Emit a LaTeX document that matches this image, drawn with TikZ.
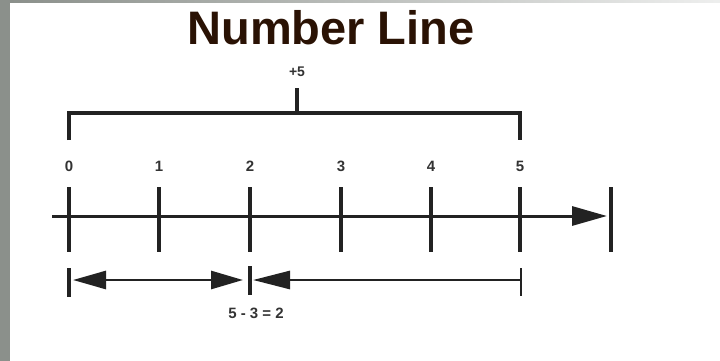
\documentclass[tikz,border=0pt]{standalone}
\usepackage{fontspec}
\setmainfont{Liberation Sans}
\usetikzlibrary{arrows.meta}
\definecolor{titlebrown}{HTML}{2A1204}
\definecolor{ink}{HTML}{222222}
\definecolor{labelgray}{HTML}{333333}
\definecolor{framegray}{HTML}{8B908B}
\tikzset{
  tickline/.style={draw=ink, line width=3.2pt},
  axisline/.style={draw=ink, line width=3pt},
  lab/.style={font=\fontsize{15}{17}\selectfont\bfseries, text=labelgray, inner sep=0pt},
  bigtip/.style={-{Triangle[length=35pt,width=19pt]}},
}
\begin{document}
\begin{tikzpicture}[x=1pt,y=-1pt]
\useasboundingbox (0,0) rectangle (720,361);
\fill[white] (0,0) rectangle (720,361);
\fill[framegray] (0,0) rectangle (10,361);
\shade[left color=framegray, right color=framegray!15] (10,0) rectangle (720,2.5);
% title
\node[font=\fontsize{47}{50}\selectfont\bfseries, text=titlebrown, inner sep=0pt] (title) at (331,28) {Number Line};
% tick coordinates
\foreach \i/\x in {0/69,1/159,2/250,3/341,4/431,5/520} {
  \coordinate (p\i) at (\x,216);
  \coordinate (u\i) at (\x,187);
  \coordinate (d\i) at (\x,252);
  \draw[tickline] (u\i) -- (d\i);
  \node[lab] (n\i) at (\x,166) {\i};
}
\coordinate (start) at (52,216);
\coordinate (eu) at (611,187);
\coordinate (ed) at (611,252);
\coordinate (tip) at (607,216);
\draw[tickline] (eu) -- (ed);
\draw[axisline, bigtip] (start) -- (tip);
% bracket
\coordinate (bl) at (69,140);
\coordinate (br) at (520,140);
\coordinate (bm) at (297,113);
\coordinate (bmt) at (297,88);
\draw[tickline, line join=miter] (bl) |- (bm) -| (br);
\draw[tickline] (bm) -- (bmt);
\node[lab, font=\fontsize{14}{16}\selectfont\bfseries] (plus) at (297,72) {+5};
% bottom arrows
\coordinate (a0t) at (69,268);
\coordinate (a0b) at (69,297);
\coordinate (a2t) at (250,266);
\coordinate (a2b) at (250,295);
\coordinate (a5t) at (521,268);
\coordinate (a5b) at (521,296);
\draw[tickline] (a0t) -- (a0b);
\draw[tickline] (a2t) -- (a2b);
\draw[tickline, line width=2.8pt] (a5t) -- (a5b);
\coordinate (l1) at (73,280);
\coordinate (l2) at (243,280);
\coordinate (r1) at (521,280);
\coordinate (r2) at (253,280);
\draw[axisline, line width=2.8pt, {Triangle[length=33pt,width=18pt]}-{Triangle[length=32pt,width=18pt]}] (l1) -- (l2);
\draw[axisline, line width=2.8pt, -{Triangle[length=37pt,width=18pt]}] (r1) -- (r2);
\node[lab] (eq) at (256,313) {5 - 3 = 2};
\end{tikzpicture}
\end{document}
